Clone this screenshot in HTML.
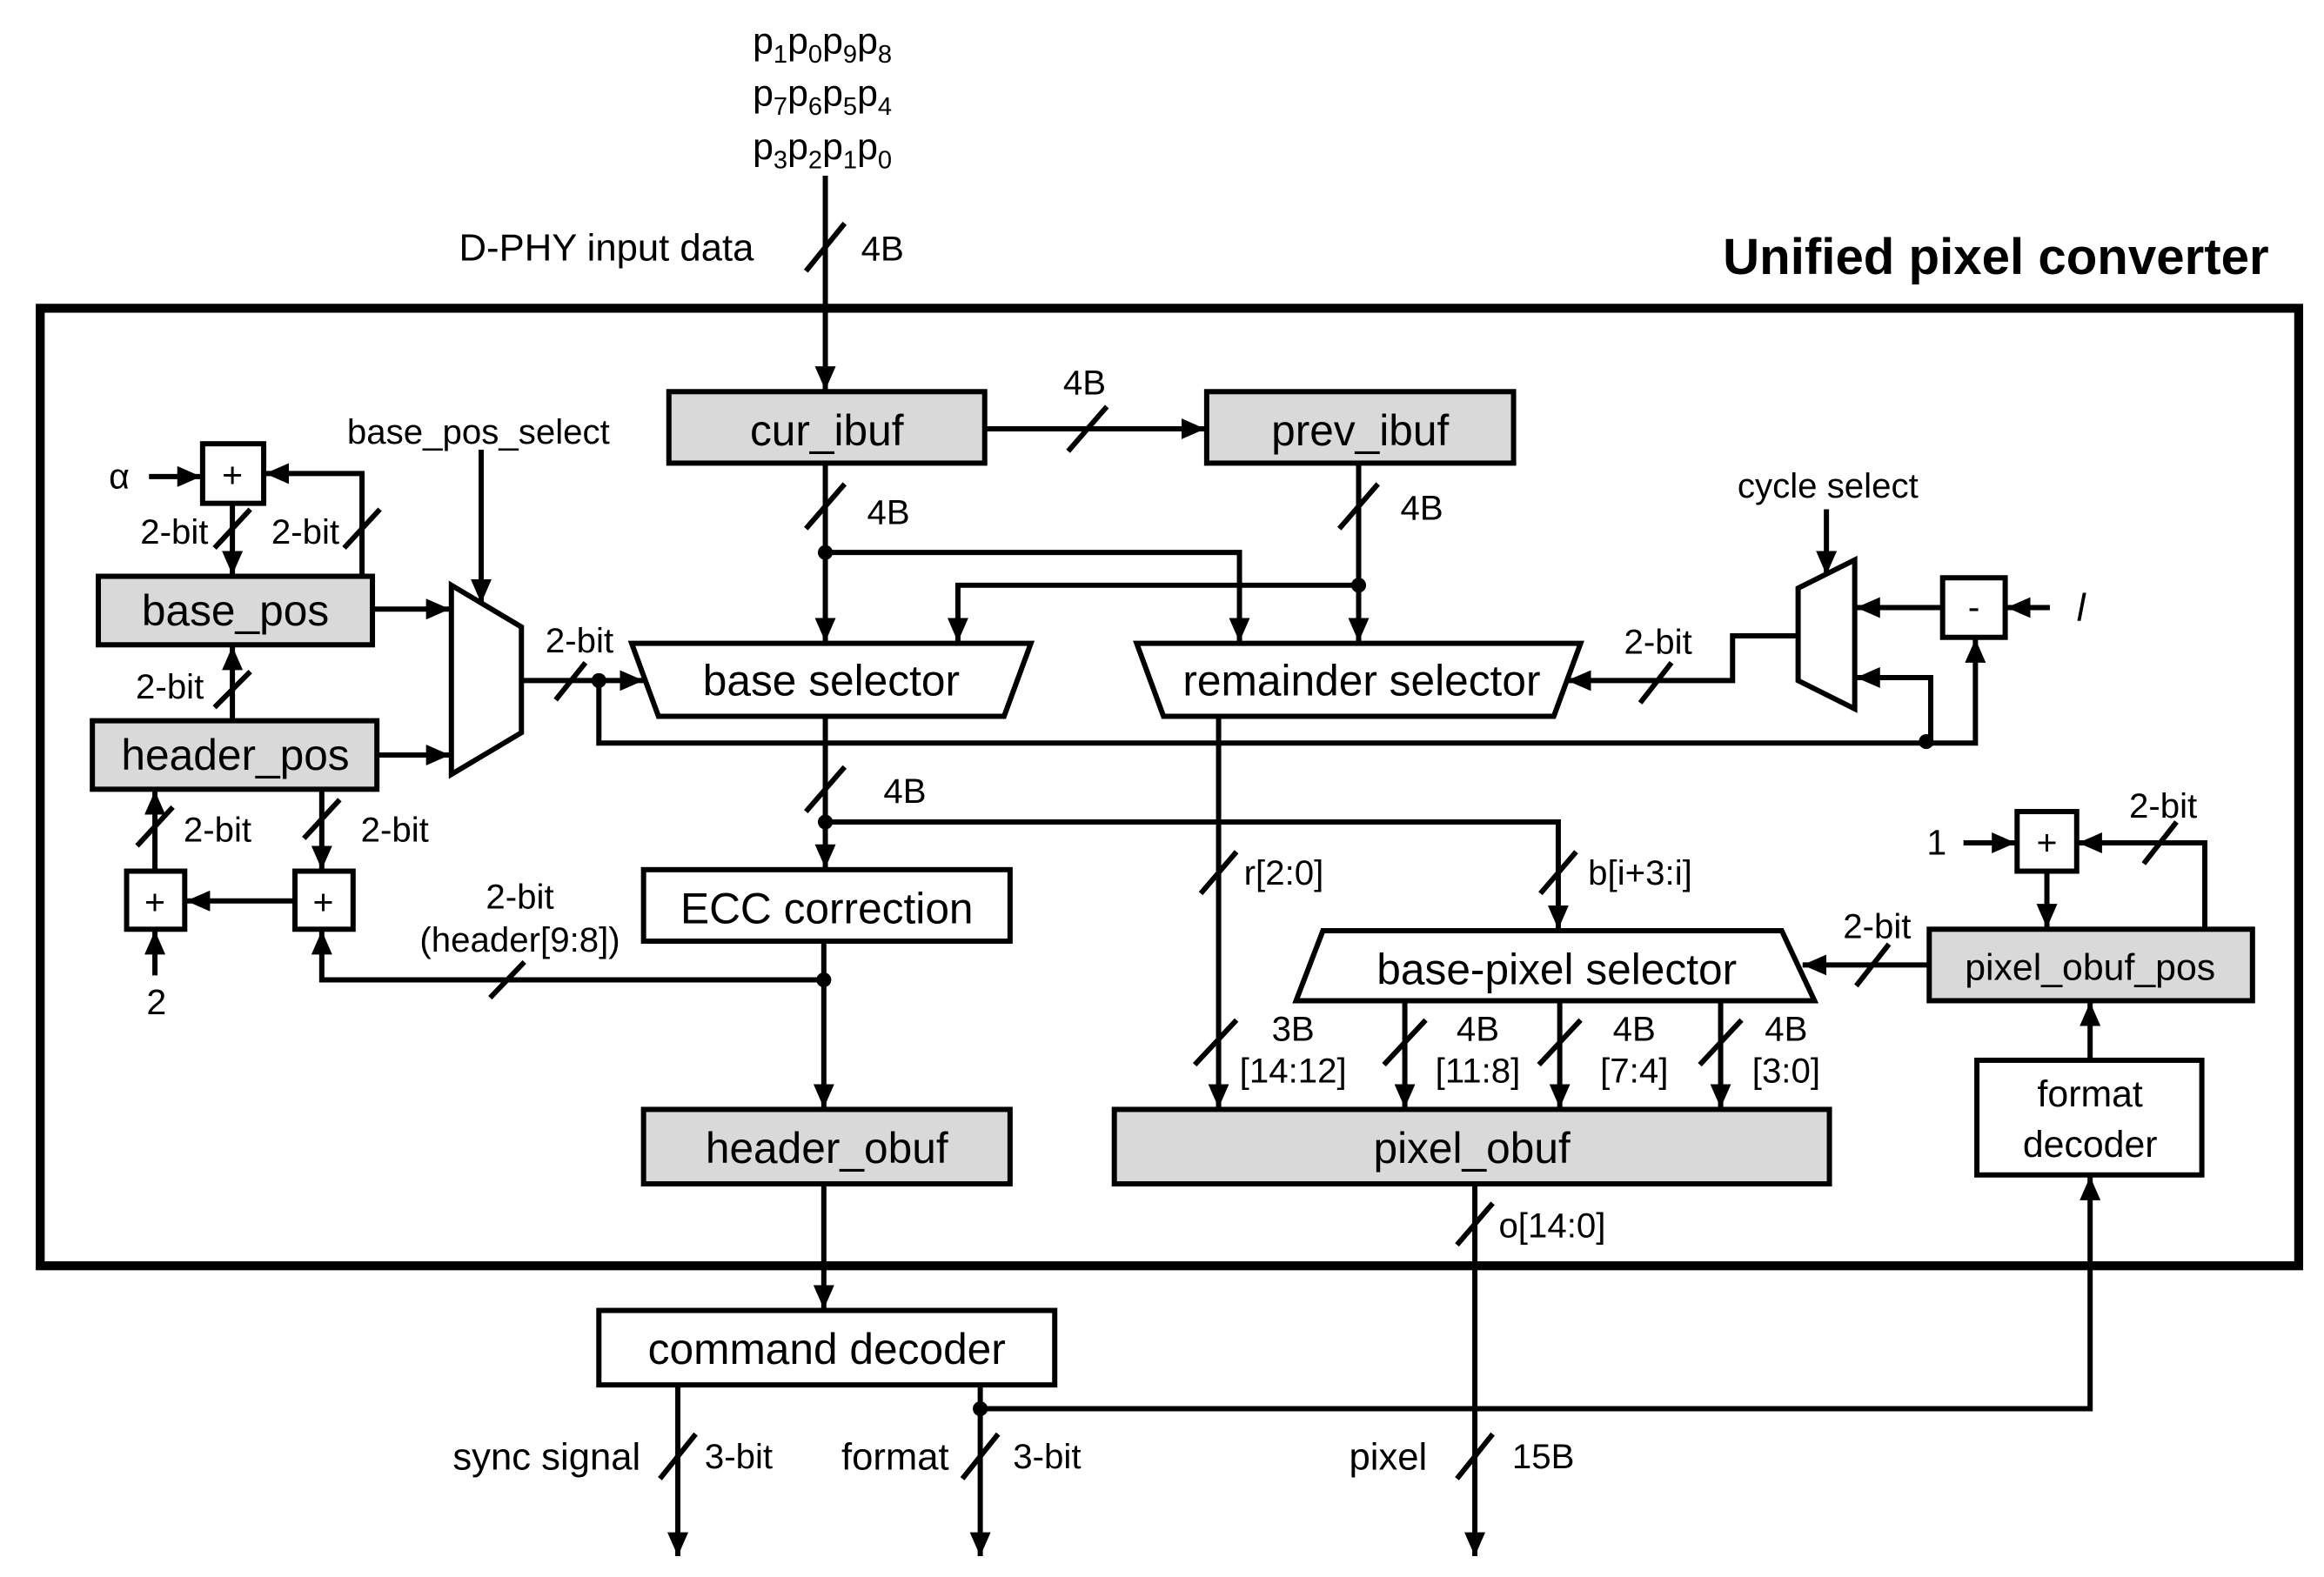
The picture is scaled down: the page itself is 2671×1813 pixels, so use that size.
<!DOCTYPE html>
<html><head><meta charset="utf-8"><style>
html,body{margin:0;padding:0;background:#fff}
svg{display:block}
text{font-family:"Liberation Sans","DejaVu Sans",sans-serif;fill:#000}
.b{font-size:29px}
.s{font-size:23.5px}
</style></head><body>
<svg width="2671" height="1813" viewBox="0 0 1560 1059" preserveAspectRatio="none" xmlns="http://www.w3.org/2000/svg">
<defs>
<marker id="a" markerUnits="userSpaceOnUse" markerWidth="18" markerHeight="16" refX="16" refY="7" orient="auto">
<path d="M0,0 L16,7 L0,14 Z" fill="#000"/>
</marker>
</defs>
<g stroke="#000" stroke-width="3.5" fill="none">
<rect x="27" y="207" width="1516" height="643" stroke-width="6"/>

<line x1="554" y1="118" x2="554" y2="262" marker-end="url(#a)"/>
<line x1="541" y1="182" x2="567" y2="150"/>

<rect x="449" y="263" width="212" height="48" fill="#d9d9d9"/>
<rect x="810" y="263" width="206" height="48" fill="#d9d9d9"/>

<line x1="661" y1="288" x2="809" y2="288" marker-end="url(#a)"/>
<line x1="717" y1="303" x2="743" y2="273"/>

<line x1="554" y1="311" x2="554" y2="431" marker-end="url(#a)"/>
<line x1="541" y1="355" x2="567" y2="325"/>
<polyline points="554,371 832,371 832,431" marker-end="url(#a)"/>
<line x1="912" y1="311" x2="912" y2="431" marker-end="url(#a)"/>
<line x1="899" y1="355" x2="925" y2="325"/>
<polyline points="912,393 643,393 643,431" marker-end="url(#a)"/>

<polygon points="424,432 692,432 674,481 442,481"/>
<polygon points="763,432 1061,432 1043,481 781,481"/>

<line x1="100" y1="320" x2="135" y2="320" marker-end="url(#a)"/>
<rect x="136" y="298" width="41" height="40"/>
<polyline points="243,386 243,318 178,318" marker-end="url(#a)"/>
<line x1="231" y1="368" x2="255" y2="342"/>
<line x1="156" y1="338" x2="156" y2="386" marker-end="url(#a)"/>
<line x1="144" y1="368" x2="168" y2="342"/>

<rect x="66" y="387" width="184" height="46" fill="#d9d9d9"/>
<rect x="62" y="484" width="191" height="46" fill="#d9d9d9"/>
<line x1="156" y1="484" x2="156" y2="434" marker-end="url(#a)"/>
<line x1="144" y1="475" x2="168" y2="451"/>

<rect x="85" y="585" width="39" height="39"/>
<rect x="198" y="585" width="39" height="39"/>
<line x1="104" y1="585" x2="104" y2="531" marker-end="url(#a)"/>
<line x1="92" y1="568" x2="116" y2="542"/>
<line x1="216" y1="530" x2="216" y2="584" marker-end="url(#a)"/>
<line x1="204" y1="563" x2="228" y2="537"/>
<line x1="198" y1="605" x2="125" y2="605" marker-end="url(#a)"/>
<line x1="104" y1="655" x2="104" y2="625" marker-end="url(#a)"/>
<polyline points="553,658 216,658 216,625" marker-end="url(#a)"/>
<line x1="329" y1="670" x2="352" y2="646"/>

<polygon points="303,393 350,421 350,492 303,520"/>
<line x1="250" y1="409" x2="302" y2="409" marker-end="url(#a)"/>
<line x1="253" y1="507" x2="302" y2="507" marker-end="url(#a)"/>
<line x1="323" y1="302" x2="323" y2="405" marker-end="url(#a)"/>
<line x1="350" y1="457" x2="432" y2="457" marker-end="url(#a)"/>
<line x1="373" y1="470" x2="393" y2="445"/>
<polyline points="402,457 402,499 1293,499"/>

<polygon points="1207,395 1245,376 1245,476 1207,457"/>
<line x1="1226" y1="342" x2="1226" y2="386" marker-end="url(#a)"/>
<polyline points="1207,427 1163,427 1163,457 1052,457" marker-end="url(#a)"/>
<line x1="1101" y1="472" x2="1122" y2="445"/>
<rect x="1304" y="388" width="42" height="40"/>
<line x1="1376" y1="408" x2="1347" y2="408" marker-end="url(#a)"/>
<line x1="1304" y1="408" x2="1246" y2="408" marker-end="url(#a)"/>
<polyline points="1293,499 1296,499 1296,455 1246,455" marker-end="url(#a)"/>
<polyline points="1293,499 1326,499 1326,429" marker-end="url(#a)"/>

<line x1="554" y1="481" x2="554" y2="583" marker-end="url(#a)"/>
<line x1="541" y1="545" x2="567" y2="515"/>
<polyline points="554,552 1046,552 1046,624" marker-end="url(#a)"/>
<line x1="1034" y1="600" x2="1058" y2="572"/>

<rect x="432" y="584" width="246" height="48"/>
<line x1="553" y1="632" x2="553" y2="744" marker-end="url(#a)"/>
<rect x="432" y="745" width="246" height="50" fill="#d9d9d9"/>
<line x1="553" y1="795" x2="553" y2="879" marker-end="url(#a)"/>
<rect x="402" y="880" width="306" height="50"/>

<line x1="455" y1="930" x2="455" y2="1045" marker-end="url(#a)"/>
<line x1="443" y1="993" x2="467" y2="963"/>
<line x1="658" y1="930" x2="658" y2="1045" marker-end="url(#a)"/>
<line x1="646" y1="993" x2="670" y2="963"/>
<polyline points="658,946 1403,946 1403,790" marker-end="url(#a)"/>
<line x1="990" y1="795" x2="990" y2="1045" marker-end="url(#a)"/>
<line x1="978" y1="836" x2="1002" y2="808"/>
<line x1="978" y1="993" x2="1002" y2="963"/>

<line x1="818" y1="481" x2="818" y2="744" marker-end="url(#a)"/>
<line x1="806" y1="600" x2="830" y2="572"/>
<line x1="802" y1="715" x2="830" y2="685"/>

<polygon points="888,625 1196,625 1218,672 870,672"/>
<line x1="943" y1="672" x2="943" y2="744" marker-end="url(#a)"/>
<line x1="1047" y1="672" x2="1047" y2="744" marker-end="url(#a)"/>
<line x1="1155" y1="672" x2="1155" y2="744" marker-end="url(#a)"/>
<line x1="929" y1="715" x2="957" y2="685"/>
<line x1="1033" y1="715" x2="1061" y2="685"/>
<line x1="1141" y1="715" x2="1169" y2="685"/>
<rect x="748" y="745" width="480" height="50" fill="#d9d9d9"/>

<rect x="1295" y="624" width="217" height="48" fill="#d9d9d9"/>
<line x1="1295" y1="648" x2="1210" y2="648" marker-end="url(#a)"/>
<line x1="1246" y1="662" x2="1268" y2="634"/>
<rect x="1354" y="545" width="40" height="40"/>
<line x1="1318" y1="566" x2="1353" y2="566" marker-end="url(#a)"/>
<polyline points="1480,624 1480,566 1395,566" marker-end="url(#a)"/>
<line x1="1439" y1="580" x2="1461" y2="552"/>
<line x1="1374" y1="585" x2="1374" y2="623" marker-end="url(#a)"/>
<rect x="1327" y="712" width="151" height="77"/>
<line x1="1403" y1="712" x2="1403" y2="673" marker-end="url(#a)"/>
</g>
<g fill="#000">
<circle cx="554" cy="371" r="5"/>
<circle cx="912" cy="393" r="5"/>
<circle cx="402" cy="457" r="5"/>
<circle cx="1293" cy="498" r="5"/>
<circle cx="554" cy="552" r="5"/>
<circle cx="553" cy="658" r="5"/>
<circle cx="658" cy="946" r="5"/>
</g>

<text x="1523" y="184" font-size="34" font-weight="bold" text-anchor="end">Unified pixel converter</text>
<text x="552" y="36" font-size="25" text-anchor="middle">p<tspan font-size="17" dy="6">1</tspan><tspan dy="-6">p</tspan><tspan font-size="17" dy="6">0</tspan><tspan dy="-6">p</tspan><tspan font-size="17" dy="6">9</tspan><tspan dy="-6">p</tspan><tspan font-size="17" dy="6">8</tspan></text>
<text x="552" y="71" font-size="25" text-anchor="middle">p<tspan font-size="17" dy="6">7</tspan><tspan dy="-6">p</tspan><tspan font-size="17" dy="6">6</tspan><tspan dy="-6">p</tspan><tspan font-size="17" dy="6">5</tspan><tspan dy="-6">p</tspan><tspan font-size="17" dy="6">4</tspan></text>
<text x="552" y="107" font-size="25" text-anchor="middle">p<tspan font-size="17" dy="6">3</tspan><tspan dy="-6">p</tspan><tspan font-size="17" dy="6">2</tspan><tspan dy="-6">p</tspan><tspan font-size="17" dy="6">1</tspan><tspan dy="-6">p</tspan><tspan font-size="17" dy="6">0</tspan></text>
<text x="506" y="175" font-size="25.5" text-anchor="end">D-PHY input data</text>
<text x="578" y="175" class="s">4B</text>

<text x="555" y="299" class="b" text-anchor="middle">cur_ibuf</text>
<text x="913" y="299" class="b" text-anchor="middle">prev_ibuf</text>
<text x="728" y="265" class="s" text-anchor="middle">4B</text>
<text x="582" y="352" class="s">4B</text>
<text x="940" y="349" class="s">4B</text>
<text x="558" y="467" class="b" text-anchor="middle">base selector</text>
<text x="914" y="467" class="b" text-anchor="middle">remainder selector</text>
<text x="233" y="298" class="s">base_pos_select</text>
<text x="1227" y="334" class="s" text-anchor="middle">cycle select</text>
<text x="389" y="438" class="s" text-anchor="middle">2-bit</text>
<text x="1113" y="439" class="s" text-anchor="middle">2-bit</text>
<text x="1325" y="416" font-size="24" text-anchor="middle">-</text>
<text x="1394" y="417" font-size="26" font-style="italic" font-family="Liberation Serif">l</text>

<text x="80" y="328" font-size="24" text-anchor="middle">α</text>
<text x="156" y="327" font-size="24" text-anchor="middle">+</text>
<text x="117" y="365" class="s" text-anchor="middle">2-bit</text>
<text x="205" y="365" class="s" text-anchor="middle">2-bit</text>
<text x="158" y="420" class="b" text-anchor="middle">base_pos</text>
<text x="158" y="517" class="b" text-anchor="middle">header_pos</text>
<text x="114" y="469" class="s" text-anchor="middle">2-bit</text>
<text x="146" y="565" class="s" text-anchor="middle">2-bit</text>
<text x="265" y="565" class="s" text-anchor="middle">2-bit</text>
<text x="104" y="614" font-size="24" text-anchor="middle">+</text>
<text x="217" y="614" font-size="24" text-anchor="middle">+</text>
<text x="105" y="681" font-size="24" text-anchor="middle">2</text>
<text x="349" y="610" class="s" text-anchor="middle">2-bit</text>
<text x="349" y="639" class="s" text-anchor="middle">(header[9:8])</text>

<text x="593" y="539" class="s">4B</text>
<text x="555" y="620" class="b" text-anchor="middle">ECC correction</text>
<text x="555" y="781" class="b" text-anchor="middle">header_obuf</text>
<text x="555" y="916" class="b" text-anchor="middle">command decoder</text>
<text x="430" y="987" font-size="25.5" text-anchor="end">sync signal</text>
<text x="473" y="986" class="s">3-bit</text>
<text x="637" y="987" font-size="25.5" text-anchor="end">format</text>
<text x="680" y="986" class="s">3-bit</text>
<text x="958" y="987" font-size="25.5" text-anchor="end">pixel</text>
<text x="1015" y="986" class="s">15B</text>
<text x="1006" y="831" class="s">o[14:0]</text>

<text x="835" y="594" class="s">r[2:0]</text>
<text x="1066" y="594" class="s">b[i+3:i]</text>
<text x="1045" y="661" class="b" text-anchor="middle">base-pixel selector</text>
<text x="868" y="699" class="s" text-anchor="middle">3B</text>
<text x="868" y="727" class="s" text-anchor="middle">[14:12]</text>
<text x="992" y="699" class="s" text-anchor="middle">4B</text>
<text x="992" y="727" class="s" text-anchor="middle">[11:8]</text>
<text x="1097" y="699" class="s" text-anchor="middle">4B</text>
<text x="1097" y="727" class="s" text-anchor="middle">[7:4]</text>
<text x="1199" y="699" class="s" text-anchor="middle">4B</text>
<text x="1199" y="727" class="s" text-anchor="middle">[3:0]</text>
<text x="988" y="781" class="b" text-anchor="middle">pixel_obuf</text>

<text x="1403" y="658" font-size="25" text-anchor="middle">pixel_obuf_pos</text>
<text x="1260" y="630" class="s" text-anchor="middle">2-bit</text>
<text x="1452" y="549" class="s" text-anchor="middle">2-bit</text>
<text x="1300" y="574" font-size="24" text-anchor="middle">1</text>
<text x="1374" y="574" font-size="24" text-anchor="middle">+</text>
<text x="1403" y="743" font-size="25" text-anchor="middle">format</text>
<text x="1403" y="777" font-size="25" text-anchor="middle">decoder</text>
</svg>
</body></html>
